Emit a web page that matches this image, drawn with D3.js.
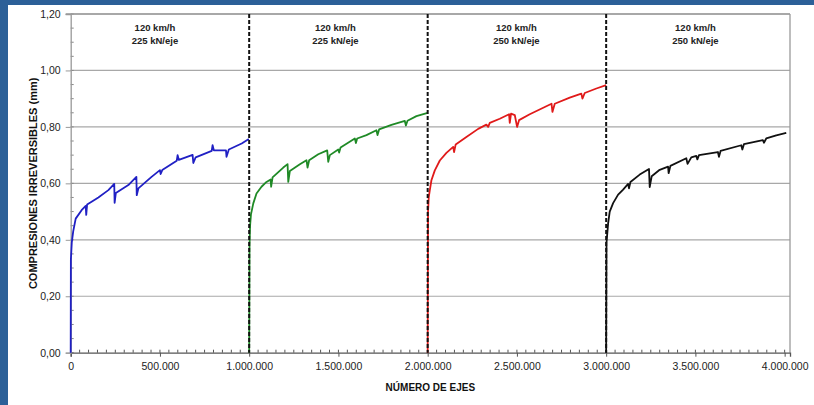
<!DOCTYPE html>
<html>
<head>
<meta charset="utf-8">
<script src="https://cdn.jsdelivr.net/npm/d3@7"></script>
<style>
  html, body { margin: 0; padding: 0; background: #fff; }
  svg { display: block; }
  text { font-family: "Liberation Sans", Arial, sans-serif; }
</style>
</head>
<body>
<svg id="chart" width="814" height="405"></svg>
<script>
// Deformación permanente acumulada por tramo de ensayo (ejes, mm)
const tramo1 = [
  [0, 0], [1000, 0.33], [6000, 0.39], [14000, 0.43], [28000, 0.475], [61000, 0.505], [84000, 0.52],
  [87000, 0.488], [92000, 0.525], [117000, 0.535], [155000, 0.55], [211000, 0.576],
  [244000, 0.598], [246000, 0.531], [253000, 0.566], [323000, 0.594], [368000, 0.623],
  [370000, 0.558], [379000, 0.582], [453000, 0.623], [500000, 0.647], [504000, 0.633],
  [513000, 0.647], [594000, 0.68], [599000, 0.70], [606000, 0.683], [683000, 0.701],
  [687000, 0.672], [700000, 0.692], [790000, 0.715], [795000, 0.735], [802000, 0.717],
  [870000, 0.717], [873000, 0.694], [886000, 0.72], [958000, 0.741], [998000, 0.757]
];
const tramo2 = [
  [1000000, 0], [1002000, 0.38], [1005000, 0.45], [1010000, 0.49], [1023000, 0.529],
  [1041000, 0.564], [1069000, 0.588], [1097000, 0.605], [1120000, 0.614], [1123000, 0.588],
  [1131000, 0.621], [1191000, 0.656], [1215000, 0.668], [1219000, 0.605], [1228000, 0.644],
  [1284000, 0.668], [1321000, 0.682], [1327000, 0.656], [1336000, 0.682], [1387000, 0.703],
  [1437000, 0.717], [1443000, 0.676], [1452000, 0.70], [1499000, 0.72], [1504000, 0.709],
  [1512000, 0.727], [1592000, 0.759], [1598000, 0.743], [1605000, 0.759], [1657000, 0.771],
  [1713000, 0.788], [1719000, 0.771], [1728000, 0.791], [1797000, 0.807], [1872000, 0.821],
  [1878000, 0.805], [1887000, 0.822], [1937000, 0.838], [2000000, 0.85]
];
const tramo3 = [
  [2000000, 0], [2002000, 0.50], [2006000, 0.55], [2012000, 0.576], [2021000, 0.611],
  [2040000, 0.646], [2068000, 0.681], [2105000, 0.708], [2143000, 0.729], [2148000, 0.711],
  [2157000, 0.738], [2217000, 0.764], [2283000, 0.793], [2329000, 0.808], [2339000, 0.80],
  [2348000, 0.814], [2404000, 0.829], [2456000, 0.845], [2460000, 0.814], [2467000, 0.847],
  [2488000, 0.842], [2501000, 0.80], [2512000, 0.824], [2572000, 0.845], [2694000, 0.882],
  [2699000, 0.853], [2712000, 0.882], [2796000, 0.904], [2861000, 0.918], [2867000, 0.90],
  [2880000, 0.92], [2945000, 0.936], [3000000, 0.948]
];
const tramo4 = [
  [3000000, 0], [3002000, 0.39], [3011000, 0.458], [3020000, 0.50], [3039000, 0.53],
  [3067000, 0.56], [3095000, 0.578], [3123000, 0.598], [3128000, 0.582], [3136000, 0.605],
  [3188000, 0.631], [3240000, 0.651], [3244000, 0.587], [3255000, 0.625], [3300000, 0.648],
  [3347000, 0.659], [3350000, 0.636], [3360000, 0.662], [3449000, 0.689], [3456000, 0.669],
  [3477000, 0.692], [3505000, 0.697], [3511000, 0.685], [3520000, 0.70], [3626000, 0.711],
  [3632000, 0.694], [3641000, 0.715], [3757000, 0.735], [3763000, 0.72], [3772000, 0.739],
  [3878000, 0.753], [3884000, 0.744], [3897000, 0.759], [3953000, 0.77], [4009000, 0.779]
];
const series = [tramo1, tramo2, tramo3, tramo4];
const seriesColors = ["#2020c4", "#1f8a26", "#e01a1a", "#111111"];

const cambiosTramo = [1000000, 2000000, 3000000];
const etiquetasVelocidad = ["120 km/h", "120 km/h", "120 km/h", "120 km/h"];
const etiquetasCarga = ["225 kN/eje", "225 kN/eje", "250 kN/eje", "250 kN/eje"];
const etiquetasX = [472000, 1483000, 2497000, 3500000];

const xTicks = [0, 500000, 1000000, 1500000, 2000000, 2500000, 3000000, 3500000, 4000000];
const yTicks = [0, 0.2, 0.4, 0.6, 0.8, 1.0, 1.2];
const xMax = 4030000;
const yMax = 1.2;

const svg = d3.select("#chart");
const W = 814, H = 405;
const m = { left: 70.7, right: 24, top: 14, bottom: 52.3 };

// marco azul de la diapositiva
svg.append("rect").attr("x", 0).attr("y", 0).attr("width", W).attr("height", 5).attr("fill", "#2c6098");
svg.append("rect").attr("x", 0).attr("y", 0).attr("width", 8).attr("height", H).attr("fill", "#2c6098");

const x = d3.scaleLinear().domain([0, xMax]).range([m.left, W - m.right]);
const y = d3.scaleLinear().domain([0, yMax]).range([H - m.bottom, m.top]);

const es = d3.formatLocale({ decimal: ",", thousands: ".", grouping: [3], currency: ["", "€"] });
const fx = es.format(",d");
const fy = es.format(".2f");

// rejilla horizontal
svg.append("g").selectAll("line").data(yTicks.filter(d => d > 0)).join("line")
  .attr("x1", m.left).attr("x2", W - m.right)
  .attr("y1", d => y(d)).attr("y2", d => y(d))
  .attr("stroke", "#a8a8a8").attr("stroke-width", 1.2);

// borde derecho del área de trazado
svg.append("line")
  .attr("x1", W - m.right).attr("x2", W - m.right)
  .attr("y1", m.top).attr("y2", y(0))
  .attr("stroke", "#9a9a9a").attr("stroke-width", 1.3);

// marcas secundarias (hacia dentro)
const xMinor = d3.range(0, xMax, 50000);
svg.append("g").selectAll("line").data(xMinor).join("line")
  .attr("x1", d => x(d)).attr("x2", d => x(d))
  .attr("y1", y(0)).attr("y2", y(0) - 3)
  .attr("stroke", "#555").attr("stroke-width", 1);
const yMinor = d3.range(0, yMax + 0.001, 0.05);
svg.append("g").selectAll("line").data(yMinor).join("line")
  .attr("x1", m.left).attr("x2", m.left + 3)
  .attr("y1", d => y(d)).attr("y2", d => y(d))
  .attr("stroke", "#888").attr("stroke-width", 1);

// eje X
const gx = svg.append("g").attr("transform", `translate(0,${y(0)})`)
  .call(d3.axisBottom(x).tickValues(xTicks).tickFormat(fx).tickSize(4).tickPadding(6));
gx.select(".domain").attr("stroke", "#555").attr("stroke-width", 1.3);
gx.selectAll(".tick line").attr("stroke", "#555");
gx.selectAll("text").attr("font-size", 10.5).attr("fill", "#222");

// eje Y
const gy = svg.append("g").attr("transform", `translate(${m.left},0)`)
  .call(d3.axisLeft(y).tickValues(yTicks).tickFormat(fy).tickSize(5).tickPadding(5));
gy.select(".domain").attr("stroke", "#999").attr("stroke-width", 1.3);
gy.selectAll(".tick line").attr("stroke", "#999");
gy.selectAll("text").attr("font-size", 10.5).attr("fill", "#222");

// borde superior
svg.append("line")
  .attr("x1", m.left - 5).attr("x2", W - m.right)
  .attr("y1", m.top).attr("y2", m.top)
  .attr("stroke", "#9a9a9a").attr("stroke-width", 1.3);

// curvas de compresión
const line = d3.line().x(d => x(d[0])).y(d => y(d[1]));
svg.append("g").selectAll("path").data(series).join("path")
  .attr("d", line)
  .attr("fill", "none")
  .attr("stroke", (d, i) => seriesColors[i])
  .attr("stroke-width", 1.8)
  .attr("stroke-linejoin", "round");

// separadores entre tramos
svg.append("g").selectAll("line").data(cambiosTramo).join("line")
  .attr("x1", d => x(d)).attr("x2", d => x(d))
  .attr("y1", m.top).attr("y2", y(0))
  .attr("stroke", "#111").attr("stroke-width", 2)
  .attr("stroke-dasharray", "4,2");

// rótulos de cada tramo
const lab = svg.append("g").attr("font-weight", "bold").attr("font-size", 9.5)
  .attr("fill", "#222").attr("text-anchor", "middle");
lab.selectAll("text.v").data(etiquetasX).join("text").attr("class", "v")
  .attr("x", d => x(d)).attr("y", 31).text((d, i) => etiquetasVelocidad[i]);
lab.selectAll("text.c").data(etiquetasX).join("text").attr("class", "c")
  .attr("x", d => x(d)).attr("y", 44).text((d, i) => etiquetasCarga[i]);

// títulos de los ejes
svg.append("text")
  .attr("x", (m.left + W - m.right) / 2).attr("y", 391)
  .attr("text-anchor", "middle").attr("font-weight", "bold").attr("font-size", 10)
  .attr("fill", "#111").text("NÚMERO DE EJES");
svg.append("text")
  .attr("transform", `translate(37,${(m.top + y(0)) / 2}) rotate(-90)`)
  .attr("text-anchor", "middle").attr("font-weight", "bold").attr("font-size", 11)
  .attr("fill", "#111").text("COMPRESIONES IRREVERSIBLES (mm)");
</script>
</body>
</html>
